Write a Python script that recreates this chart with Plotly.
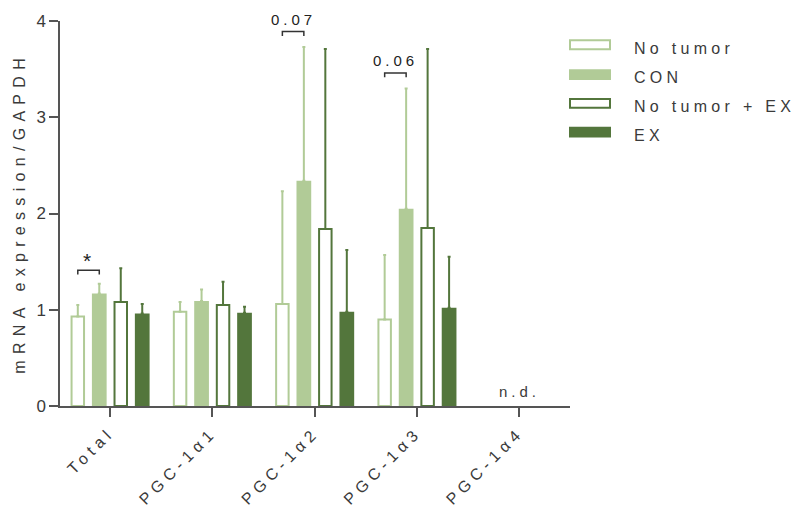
import plotly.graph_objects as go

# Gene targets and group means / upper SEM (PGC-1α4 not detected)
categories = ["Total", "PGC-1α1", "PGC-1α2", "PGC-1α3", "PGC-1α4"]
groups = ["No tumor", "CON", "No tumor + EX", "EX"]

no_tumor = [0.93, 0.98, 1.06, 0.90, None]
no_tumor_err = [0.12, 0.10, 1.17, 0.67, None]
con = [1.17, 1.09, 2.34, 2.05, None]
con_err = [0.10, 0.12, 1.39, 1.25, None]
no_tumor_ex = [1.08, 1.05, 1.84, 1.85, None]
no_tumor_ex_err = [0.35, 0.24, 1.87, 1.86, None]
ex = [0.96, 0.97, 0.98, 1.02, None]
ex_err = [0.10, 0.06, 0.64, 0.53, None]

LIGHT = "#b1cb97"
DARK = "#53763c"
TEXT = "#3a3a3a"
AXIS = "#555555"

# plot area in pixels (for placing the hand-drawn legend)
L, R, T, B = 60, 570, 18, 406
def px(x):
    return (x - L) / (R - L)
def py(y):
    return (B - y) / (B - T)

series = [
    dict(name=groups[0], y=no_tumor, err=no_tumor_err, color=LIGHT, hollow=True, off=-0.315),
    dict(name=groups[1], y=con, err=con_err, color=LIGHT, hollow=False, off=-0.105),
    dict(name=groups[2], y=no_tumor_ex, err=no_tumor_ex_err, color=DARK, hollow=True, off=0.105),
    dict(name=groups[3], y=ex, err=ex_err, color=DARK, hollow=False, off=0.315),
]

fig = go.Figure()
for s in series:
    w = 0.122 if s["hollow"] else 0.144
    fig.add_trace(go.Bar(
        x=categories, y=s["y"], name=s["name"],
        offset=s["off"] - w / 2, width=w,
        marker=dict(
            color="white" if s["hollow"] else s["color"],
            line=dict(color=s["color"], width=2 if s["hollow"] else 0),
        ),
        error_y=dict(type="data", symmetric=False, array=s["err"],
                     arrayminus=[0 if v is not None else None for v in s["err"]],
                     color=s["color"], thickness=2, width=1.5),
        showlegend=False,
    ))

shapes = []
annotations = []

# significance brackets between No tumor and CON
def bracket(ci, y_line, label, size, shift):
    x0, x1 = ci - 0.315, ci - 0.105
    shapes.append(dict(type="path", xref="x", yref="y",
                       path=f"M {x0},{y_line - 0.045} L {x0},{y_line} L {x1},{y_line} L {x1},{y_line - 0.045}",
                       line=dict(color="#333333", width=1.5)))
    annotations.append(dict(x=(x0 + x1) / 2, y=y_line, xref="x", yref="y", text=label,
                            showarrow=False, yanchor="bottom", yshift=shift,
                            font=dict(size=size, color="#222222")))

bracket(0, 1.41, "*", 21, -4)
bracket(2, 3.89, "0.07", 15, 2)
bracket(3, 3.46, "0.06", 15, 2)

annotations.append(dict(x=4, y=0, xref="x", yref="y", text="n.d.", showarrow=False,
                        yanchor="bottom", yshift=4, font=dict(size=15, color=TEXT)))

# y axis title
annotations.append(dict(x=px(19), y=0.5, xref="paper", yref="paper",
                        text="mRNA expression/GAPDH", textangle=-90, showarrow=False,
                        xanchor="center", yanchor="middle",
                        font=dict(size=16, color=TEXT)))

# legend
swatch_y = [42, 72, 101, 130]
text_y = [46, 75, 104, 133]
for s, sy, ty in zip(series, swatch_y, text_y):
    if s["hollow"]:
        shapes.append(dict(type="rect", xref="paper", yref="paper",
                           x0=px(570), x1=px(610), y0=py(sy + 4.5), y1=py(sy - 4.5),
                           fillcolor="white", line=dict(color=s["color"], width=2)))
    else:
        shapes.append(dict(type="rect", xref="paper", yref="paper",
                           x0=px(569), x1=px(611), y0=py(sy + 5.5), y1=py(sy - 5.5),
                           fillcolor=s["color"], line=dict(width=0)))
    annotations.append(dict(x=px(632), y=py(ty), xref="paper", yref="paper",
                            text=s["name"], showarrow=False, xanchor="left", align="left",
                            yanchor="middle", font=dict(size=16, color=TEXT)))

fig.update_layout(
    width=798, height=513,
    margin=dict(l=L, r=798 - R, t=T, b=513 - B),
    plot_bgcolor="white", paper_bgcolor="white",
    barmode="overlay",
    font=dict(family="Liberation Sans, Arial, sans-serif", size=16, color=TEXT),
    shapes=shapes, annotations=annotations,
    xaxis=dict(range=[-0.489, 4.497], showgrid=False, zeroline=False,
               showline=True, linecolor=AXIS, linewidth=1.5,
               ticks="outside", ticklen=9, tickwidth=1.5, tickcolor=AXIS,
               tickangle=-45, tickfont=dict(size=16, color=TEXT)),
    yaxis=dict(range=[0, 4], tickvals=[0, 1, 2, 3, 4], showgrid=False, zeroline=False,
               showline=True, linecolor=AXIS, linewidth=1.5,
               ticks="outside", ticklen=9, tickwidth=1.5, tickcolor=AXIS,
               tickfont=dict(size=17, color=TEXT)),
)

# widely tracked lettering for labels
css = (".xtick text{letter-spacing:5px;}"
       ".annotation-text{letter-spacing:4px;}"
       ".annotation[data-index=\"4\"] .annotation-text{letter-spacing:6.3px;}"
       ".annotation[data-index=\"5\"] .annotation-text,"
       ".annotation[data-index=\"6\"] .annotation-text,"
       ".annotation[data-index=\"7\"] .annotation-text,"
       ".annotation[data-index=\"8\"] .annotation-text{letter-spacing:4.3px;}")
post = ("var st=document.createElement('style');"
        "st.textContent='" + css.replace("'", "\\'") + "';"
        "document.head.appendChild(st);")
fig.write_html("out.html", post_script=post)
